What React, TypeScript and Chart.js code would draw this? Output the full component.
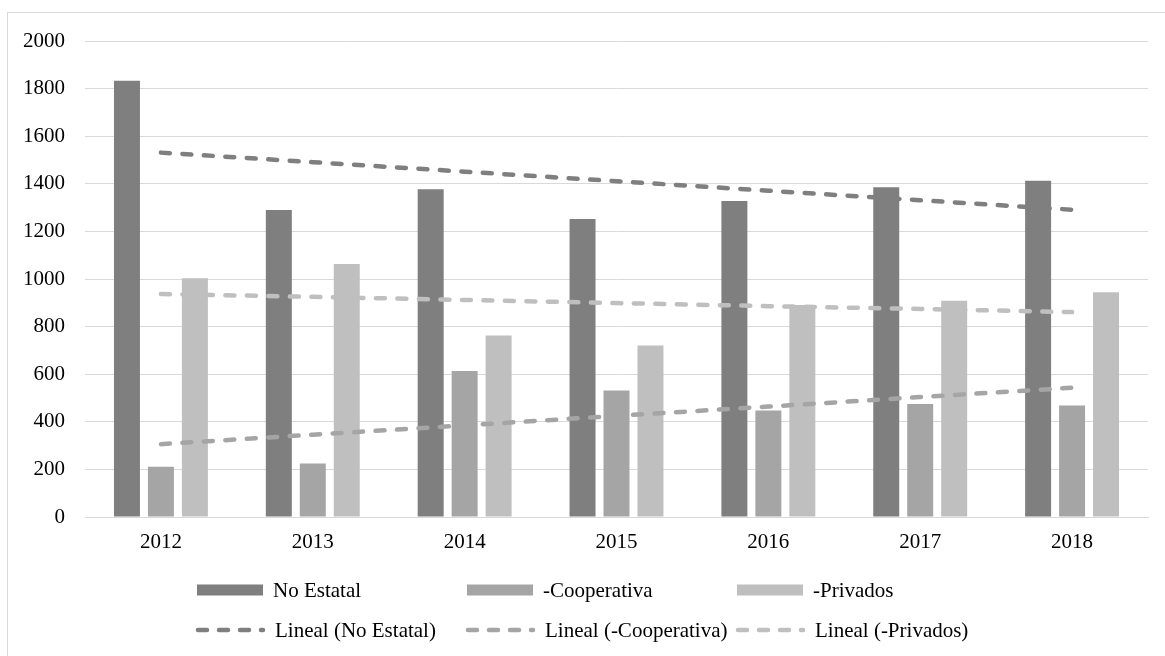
import { useEffect, useRef } from "react";
import { Chart, registerables } from "chart.js";

Chart.register(...registerables);

const categories = ["2012", "2013", "2014", "2015", "2016", "2017", "2018"];
const noEstatal = [1833, 1290, 1377, 1252, 1328, 1385, 1413];
const cooperativa = [211, 225, 613, 531, 447, 475, 469];
const privados = [1003, 1063, 763, 721, 891, 909, 944];
const trendNoEstatal = [1531, 1491, 1451, 1411, 1371, 1331, 1291];
const trendCooperativa = [306, 346, 385, 425, 464, 504, 543];
const trendPrivados = [937, 925, 912, 899, 886, 874, 861];
const barLabels = ["No Estatal", "-Cooperativa", "-Privados"];
const lineLabels = ["Lineal (No Estatal)", "Lineal (-Cooperativa)", "Lineal (-Privados)"];
const colors = ["#7f7f7f", "#a5a5a5", "#bfbfbf"];

const FONT = "'Liberation Serif', 'Times New Roman', serif";

const legendPlugin = {
  id: "customLegend",
  afterDraw(chart: any) {
    const ctx = chart.ctx as CanvasRenderingContext2D;
    const colX = [189, 459, 729];
    const rowY = [577, 617];
    ctx.save();
    ctx.font = `21px ${FONT}`;
    ctx.textBaseline = "middle";
    ctx.textAlign = "left";
    for (let i = 0; i < 3; i++) {
      // bar item
      ctx.fillStyle = colors[i];
      ctx.fillRect(colX[i], rowY[0] - 5.5, 66, 11);
      ctx.fillStyle = "#000";
      ctx.fillText(barLabels[i], colX[i] + 76, rowY[0] + 1);
      // line item
      ctx.strokeStyle = colors[i];
      ctx.lineWidth = 4.5;
      ctx.lineCap = "round";
      ctx.setLineDash([9, 12]);
      ctx.beginPath();
      ctx.moveTo(colX[i] + 1, rowY[1]);
      ctx.lineTo(colX[i] + 66, rowY[1]);
      ctx.stroke();
      ctx.setLineDash([]);
      ctx.fillStyle = "#000";
      ctx.fillText(lineLabels[i], colX[i] + 78, rowY[1] + 1);
    }
    ctx.restore();
  },
};

export default function App() {
  const ref = useRef<HTMLCanvasElement | null>(null);

  useEffect(() => {
    if (!ref.current) return;
    const barCommon = {
      type: "bar" as const,
      order: 2,
      categoryPercentage: 0.671,
      barPercentage: 0.765,
    };
    const lineCommon = {
      type: "line" as const,
      order: 1,
      borderWidth: 4.5,
      borderDash: [9, 12.5],
      borderCapStyle: "round" as const,
      pointRadius: 0,
      pointHoverRadius: 0,
      fill: false,
      tension: 0,
    };
    const chart = new Chart(ref.current, {
      type: "bar",
      data: {
        labels: categories,
        datasets: [
          { ...barCommon, label: barLabels[0], data: noEstatal, backgroundColor: colors[0] },
          { ...barCommon, label: barLabels[1], data: cooperativa, backgroundColor: colors[1] },
          { ...barCommon, label: barLabels[2], data: privados, backgroundColor: colors[2] },
          { ...lineCommon, label: lineLabels[0], data: trendNoEstatal, borderColor: colors[0] },
          { ...lineCommon, label: lineLabels[1], data: trendCooperativa, borderColor: colors[1] },
          { ...lineCommon, label: lineLabels[2], data: trendPrivados, borderColor: colors[2] },
        ] as any,
      },
      options: {
        responsive: false,
        animation: false,
        layout: { padding: { top: 28, right: 17, bottom: 79, left: 0 } },
        plugins: {
          legend: { display: false },
          tooltip: { enabled: false },
        },
        scales: {
          x: {
            grid: { display: false, drawTicks: false },
            border: { display: true, color: "#d9d9d9", width: 1 },
            ticks: {
              color: "#000",
              font: { family: FONT, size: 21 },
              padding: 13,
              maxRotation: 0,
            },
            afterFit: (scale: any) => {
              scale.height = 60;
              scale.paddingLeft = 0;
              scale.paddingRight = 0;
            },
          },
          y: {
            min: 0,
            max: 2000,
            grid: { color: "#d9d9d9", lineWidth: 1, drawTicks: false },
            border: { display: false },
            ticks: {
              stepSize: 200,
              color: "#000",
              font: { family: FONT, size: 21 },
              padding: 20,
              callback: (v: any) => String(v),
            },
            afterFit: (scale: any) => {
              scale.width = 77;
              scale.paddingTop = 0;
              scale.paddingBottom = 0;
            },
          },
        },
      },
      plugins: [legendPlugin],
    });
    return () => chart.destroy();
  }, []);

  return (
    <div
      style={{
        position: "fixed",
        left: 7,
        top: 12,
        width: 1158,
        height: 644,
        borderLeft: "1px solid #d9d9d9",
        borderTop: "1px solid #d9d9d9",
        background: "#fff",
      }}
    >
      <canvas ref={ref} width={1157} height={643} style={{ display: "block", width: 1157, height: 643 }} />
    </div>
  );
}
